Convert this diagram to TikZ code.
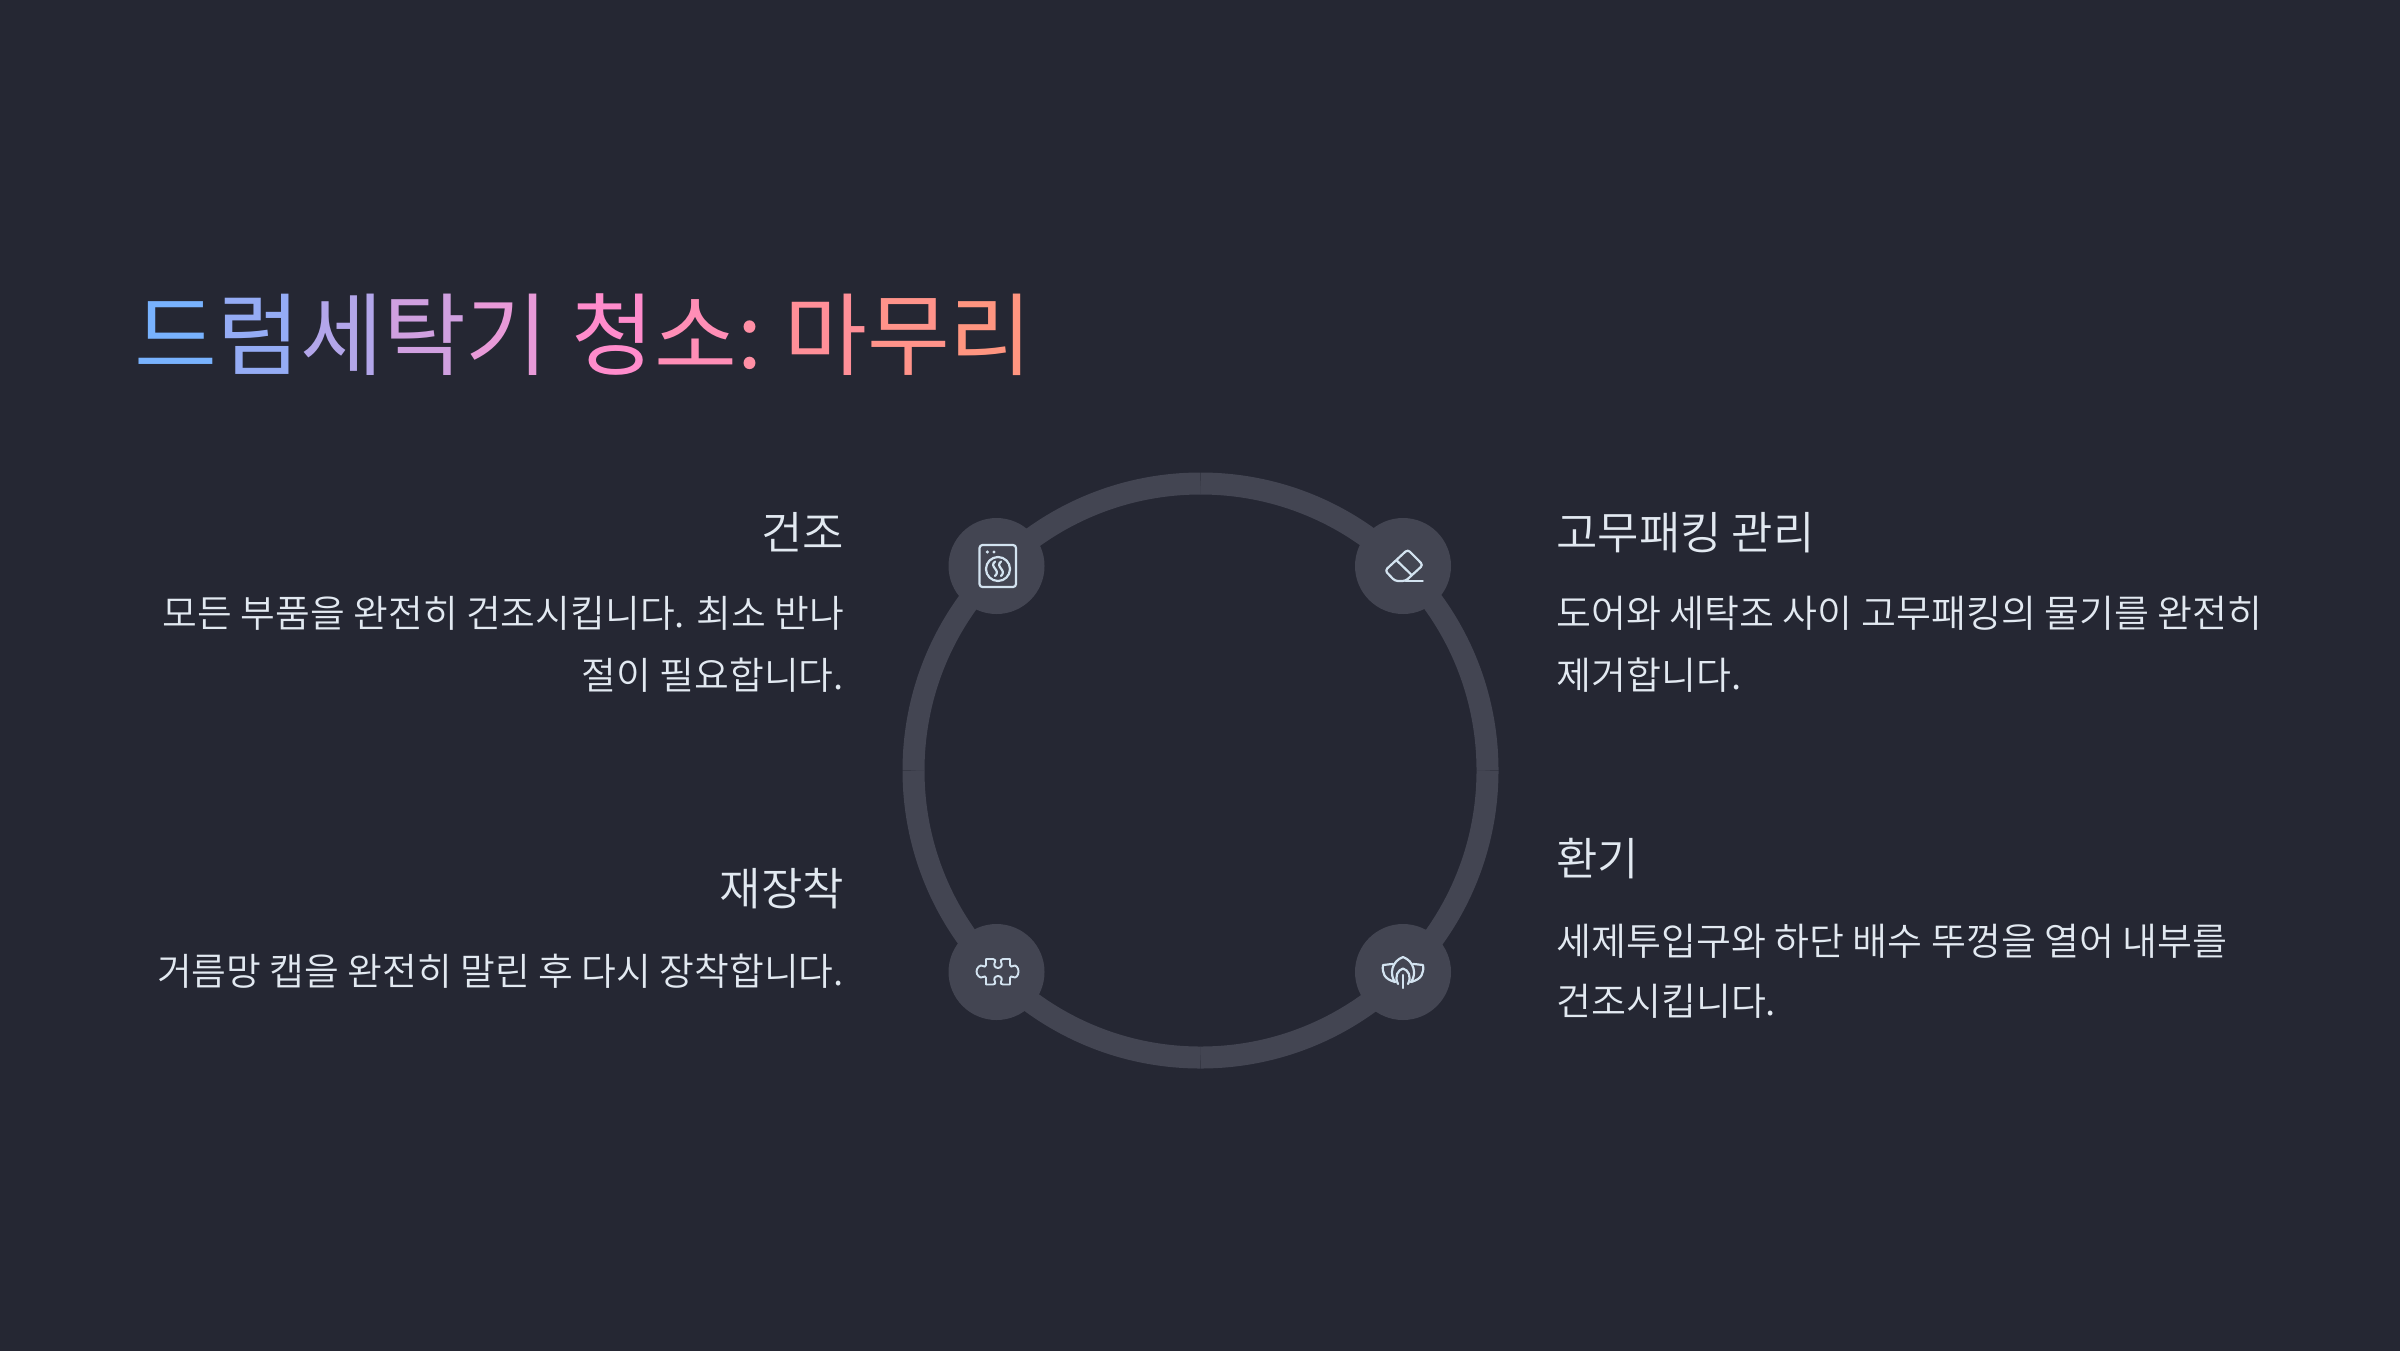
\documentclass[tikz,border=0pt]{standalone}
\usepackage{fontspec}
\setmainfont{Noto Sans CJK KR}
\newfontfamily\lightfont{Noto Sans CJK KR DemiLight}
\newfontfamily\titlefont{Noto Sans CJK KR}
\definecolor{bgc}{HTML}{252733}
\definecolor{ringc}{HTML}{434552}
\definecolor{iconc}{HTML}{D3E3F0}
\definecolor{textc}{HTML}{E2E9F1}
\newcommand{\gc}[2]{\textcolor[HTML]{#1}{#2}}
\tikzset{
  ringarc/.style={draw=ringc,line width=22pt,line cap=butt},
  dot/.style={circle,fill=ringc,minimum size=96pt,inner sep=0pt},
  iconline/.style={draw=iconc,line width=2.2pt,line cap=round,line join=round},
  headr/.style={anchor=base east,inner sep=0pt,text=textc,font=\fontsize{45}{45}\selectfont\lightfont},
  headl/.style={anchor=base west,inner sep=0pt,text=textc,font=\fontsize{45}{45}\selectfont\lightfont},
  bodyr/.style={anchor=base east,inner sep=0pt,text=textc,font=\fontsize{37.8}{37.8}\selectfont\lightfont},
  bodyl/.style={anchor=base west,inner sep=0pt,text=textc,font=\fontsize{38}{38}\selectfont\lightfont},
}
\begin{document}
\begin{tikzpicture}[x=1pt,y=-1pt]
\useasboundingbox (0,0) rectangle (2400,1350);
\fill[bgc] (-6,-6) rectangle (2406,1356);
% ring: four quarter arcs
\coordinate (c) at (1200.5,770.5);
\coordinate (ringE) at (1487.5,770.5);
\coordinate (ringN) at (1200.5,483.5);
\coordinate (ringW) at (913.5,770.5);
\coordinate (ringS) at (1200.5,1057.5);
\draw[ringarc] (ringE) arc[start angle=0,end angle=-90,radius=287];
\draw[ringarc] (ringN) arc[start angle=-90,end angle=-180,radius=287];
\draw[ringarc] (ringW) arc[start angle=-180,end angle=-270,radius=287];
\draw[ringarc] (ringS) arc[start angle=-270,end angle=-360,radius=287];
\node[dot] (d1) at (996.5,566) {};
\node[dot] (d2) at (1403,566) {};
\node[dot] (d3) at (996.5,972) {};
\node[dot] (d4) at (1403,972) {};
% title
\node[anchor=base west,inner sep=0pt,font=\fontsize{90}{90}\selectfont\titlefont] (title) at (134.5,368.5) {\gc{78B2FE}{드}\gc{95ACF5}{럼}\gc{B3A6EA}{세}\gc{D0A0E0}{탁}\gc{E89AD8}{기}\kern3pt{} \gc{FF8CCC}{청}\gc{FF8EB6}{소}\gc{FF8FA5}{:}\kern-5pt{} \gc{FF8F98}{마}\gc{FF938A}{무}\gc{FF9580}{리}};
% texts
\node[headr] (h1) at (844,549.5) {건조};
\node[bodyr] (b1a) at (844,627) {모든 부품을 완전히 건조시킵니다. 최소 반나};
\node[bodyr] (b1b) at (844,689.5) {절이 필요합니다.};
\node[headr] (h3) at (844,905.5) {재장착};
\node[bodyr] (b3) at (844,985.5) {거름망 캡을 완전히 말린 후 다시 장착합니다.};
\node[headl] (h2) at (1556,549.5) {고무패킹 관리};
\node[bodyl] (b2a) at (1556,627) {도어와 세탁조 사이 고무패킹의 물기를 완전히};
\node[bodyl] (b2b) at (1556,689.5) {제거합니다.};
\node[headl] (h4) at (1556,875.5) {환기};
\node[bodyl] (b4a) at (1556,955.5) {세제투입구와 하단 배수 뚜껑을 열어 내부를};
\node[bodyl] (b4b) at (1556,1015.5) {건조시킵니다.};
% icon 1 washer
\draw[iconline,rounded corners=3pt] (979.5,545) rectangle (1016,587);
\draw[iconline] (998,569) circle[radius=12];
\fill[iconc] (987.3,552) circle[radius=1.7] (994,552) circle[radius=1.7];
\draw[iconline] (995,561.5) .. controls (992,564) and (993,566) .. (995,568.5) .. controls (997,571) and (998,573) .. (995,576);
\draw[iconline] (1001,561.5) .. controls (998,564) and (999,566) .. (1001,568.5) .. controls (1003,571) and (1004,573) .. (1001,576);
% icon 2 eraser
\draw[iconline,rounded corners=3pt] (1407.7,549.5) -- (1423,565) -- (1405.5,581) -- (1395,581) -- (1385,570.5) -- cycle;
\draw[iconline] (1396.7,560.5) -- (1411.7,575);
\draw[iconline] (1405.5,581) -- (1422.7,581);
% icon 3 puzzle
\draw[iconline,line width=1.9pt] (986,959) -- (993,959) .. controls (995,959) and (996,961) .. (995,962) .. controls (993,965) and (995,968) .. (998,968) .. controls (1001,968) and (1003,965) .. (1001,962) .. controls (1000,961) and (1001,959) .. (1003,959) -- (1010,959) -- (1010,965) .. controls (1010,967) and (1012,967) .. (1013,966) .. controls (1016,964) and (1018.5,968) .. (1018.5,971.5) .. controls (1018.5,975) and (1016,979) .. (1013,977) .. controls (1012,976) and (1010,976) .. (1010,978) -- (1010,984.5) -- (1003,984.5) .. controls (1001,984.5) and (1000,983) .. (1001,981.5) .. controls (1003,979) and (1001,976) .. (998,976) .. controls (995,976) and (993,979) .. (995,981.5) .. controls (996,983) and (995,984.5) .. (993,984.5) -- (986,984.5) -- (986,978) .. controls (986,976) and (984,976) .. (983,977) .. controls (980,979) and (976.5,975) .. (976.5,971.5) .. controls (976.5,968) and (980,964) .. (983,966) .. controls (984,967) and (986,967) .. (986,965) -- cycle;
% icon 4 vent
\draw[iconline] (1395,982) .. controls (1389,974) and (1392,961) .. (1403,957) .. controls (1414,961) and (1417,974) .. (1411,982);
\draw[iconline] (1398,984) .. controls (1394,976) and (1398,970) .. (1403,968.5) .. controls (1408,970) and (1412,976) .. (1408,984);
\draw[iconline] (1403,975) -- (1403,988);
\draw[iconline] (1393,964) .. controls (1389,964) and (1386,965) .. (1383,965) .. controls (1382,973) and (1384,979) .. (1395,982);
\draw[iconline] (1413,964) .. controls (1417,964) and (1420,965) .. (1423,965) .. controls (1424,973) and (1422,979) .. (1411,982);
\end{tikzpicture}
\end{document}
